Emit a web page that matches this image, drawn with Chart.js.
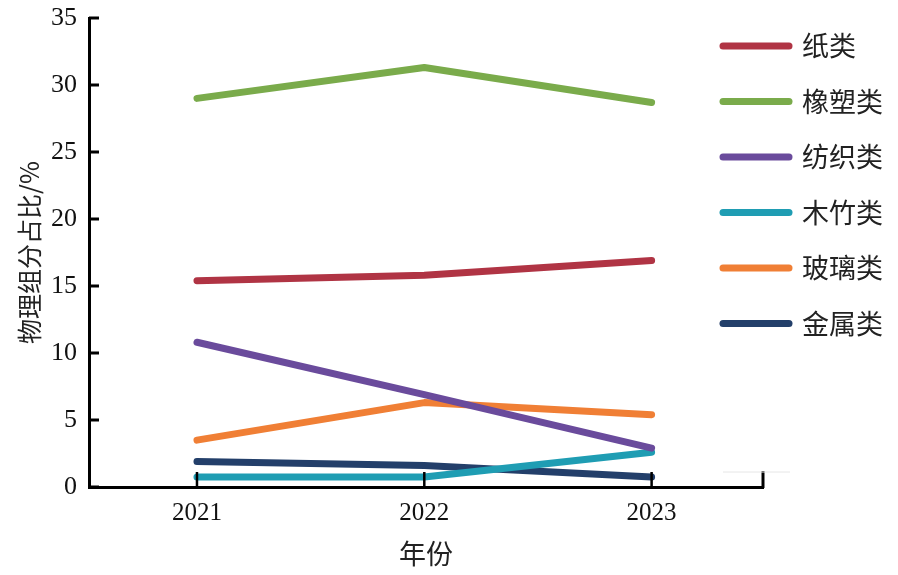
<!DOCTYPE html>
<html>
<head>
<meta charset="utf-8">
<script src="https://cdn.jsdelivr.net/npm/chart.js@4.4.1/dist/chart.umd.min.js"></script>
<style>
  html, body { margin: 0; padding: 0; background: #fff; }
  #wrap { width: 898px; height: 575px; }
</style>
</head>
<body>
<div id="wrap"><canvas id="chart" width="898" height="575"></canvas></div>
<script>
// 年份
const years = [2021, 2022, 2023];
// 物理组分占比/%
const paper    = [15.4, 15.8, 16.9];   // 纸类
const rubber   = [29.0, 31.3, 28.7];   // 橡塑类
const textile  = [10.8, 6.9, 2.9];     // 纺织类
const wood     = [0.75, 0.75, 2.6];    // 木竹类
const glass    = [3.5, 6.3, 5.4];      // 玻璃类
const metal    = [1.9, 1.6, 0.75];     // 金属类
const yTicks   = [0, 5, 10, 15, 20, 25, 30, 35];

const seriesNames = ['纸类', '橡塑类', '纺织类', '木竹类', '玻璃类', '金属类'];
const seriesData = [paper, rubber, textile, wood, glass, metal];
const seriesColors = ['#b03444', '#7aab4b', '#6a4b9c', '#1f9db3', '#f07f35', '#233f6a'];

const serif = "'Liberation Serif', 'Times New Roman', serif";
const cjk = "'Noto Sans CJK SC', 'Noto Sans', sans-serif";

const datasets = seriesNames.map((name, i) => ({
    label: name,
    data: years.map((y, j) => ({ x: y, y: seriesData[i][j] })),
    borderColor: seriesColors[i],
    backgroundColor: seriesColors[i],
    borderWidth: 7,
    borderCapStyle: 'round',
    borderJoinStyle: 'round',
    pointRadius: 0,
    tension: 0
}));

// 坐标轴刻度（朝内）和图例
const axisPlugin = {
    id: 'axisTicks',
    afterDatasetsDraw(chart) {
        const ctx = chart.ctx;
        const area = chart.chartArea;
        const xs = chart.scales.x;
        const ys = chart.scales.y;
        ctx.save();
        ctx.strokeStyle = '#000';
        ctx.lineWidth = 3;
        ctx.lineCap = 'butt';
        yTicks.forEach(v => {
            const py = ys.getPixelForValue(v);
            ctx.beginPath();
            ctx.moveTo(area.left, py);
            ctx.lineTo(area.left + 10, py);
            ctx.stroke();
        });
        ctx.lineWidth = 2.5;
        years.forEach(v => {
            const px = xs.getPixelForValue(v);
            ctx.beginPath();
            ctx.moveTo(px, area.bottom);
            ctx.lineTo(px, area.bottom - 15);
            ctx.stroke();
        });
        ctx.lineWidth = 3;
        ctx.beginPath();
        ctx.moveTo(area.right, area.bottom + 1);
        ctx.lineTo(area.right, area.bottom - 16);
        ctx.stroke();

        // faint line near legend bottom
        ctx.strokeStyle = '#e6e6e6';
        ctx.lineWidth = 1;
        ctx.beginPath();
        ctx.moveTo(723, 472);
        ctx.lineTo(790, 472);
        ctx.stroke();

        // legend
        ctx.font = '27px ' + cjk;
        ctx.textBaseline = 'middle';
        ctx.textAlign = 'left';
        chart.data.datasets.forEach((ds, i) => {
            const ly = 46 + i * 55.5;
            ctx.strokeStyle = ds.borderColor;
            ctx.lineWidth = 7;
            ctx.lineCap = 'round';
            ctx.beginPath();
            ctx.moveTo(723, ly);
            ctx.lineTo(789, ly);
            ctx.stroke();
            ctx.fillStyle = '#222';
            ctx.fillText(ds.label, 802, ly);
        });
        ctx.restore();
    }
};

new Chart(document.getElementById('chart'), {
    type: 'line',
    data: { datasets: datasets },
    options: {
        responsive: false,
        animation: false,
        events: [],
        layout: { padding: { left: 0, top: 18, right: 135, bottom: 0 } },
        plugins: {
            legend: { display: false },
            tooltip: { enabled: false }
        },
        scales: {
            x: {
                type: 'linear',
                min: 2020.525,
                max: 2023.49,
                afterBuildTicks: (scale) => { scale.ticks = years.map(v => ({ value: v })); },
                afterFit: (scale) => {
                    scale.height = 88;
                    scale.paddingLeft = 0;
                    scale.paddingRight = 0;
                },
                grid: { display: false, drawTicks: false },
                border: { display: true, color: '#000', width: 3 },
                ticks: {
                    padding: 11,
                    color: '#111',
                    font: { family: serif, size: 25 },
                    callback: (v) => String(v)
                },
                title: {
                    display: true,
                    text: '年份',
                    color: '#222',
                    font: { family: cjk, size: 27 },
                    padding: { top: 0, bottom: 5 }
                }
            },
            y: {
                min: 0,
                max: 35,
                afterBuildTicks: (scale) => { scale.ticks = yTicks.map(v => ({ value: v })); },
                afterFit: (scale) => {
                    scale.width = 89;
                    scale.paddingTop = 0;
                    scale.paddingBottom = 0;
                },
                grid: { display: false, drawTicks: false },
                border: { display: true, color: '#000', width: 3 },
                ticks: {
                    padding: 12,
                    color: '#111',
                    font: { family: serif, size: 26 }
                },
                title: {
                    display: true,
                    text: '物理组分占比/%',
                    color: '#222',
                    font: { family: cjk, size: 25 },
                    padding: { top: 14, bottom: 0 }
                }
            }
        }
    },
    plugins: [axisPlugin]
});
</script>
</body>
</html>
